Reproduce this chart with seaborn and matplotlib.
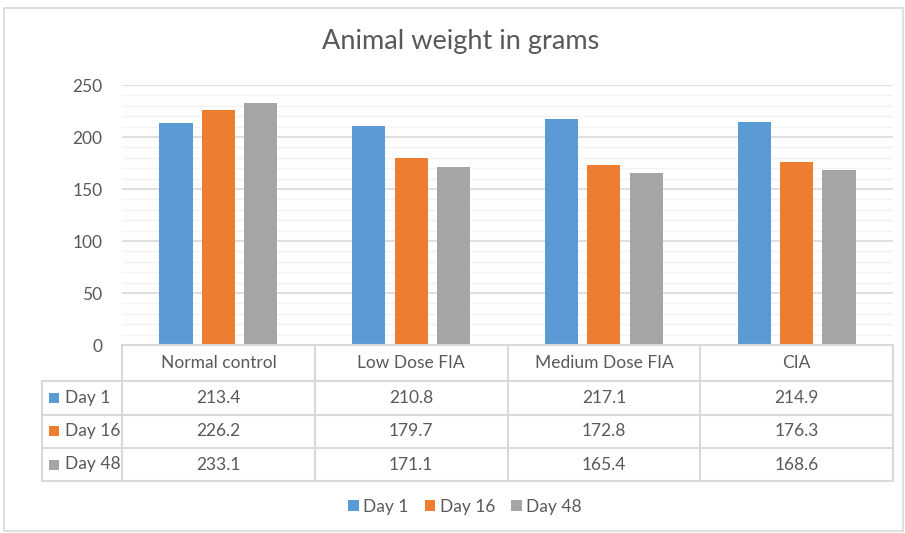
import matplotlib
matplotlib.use("Agg")
import matplotlib.pyplot as plt
import seaborn as sns
import pandas as pd
from matplotlib.patches import Rectangle
from matplotlib.lines import Line2D

categories = ["Normal control", "Low Dose FIA", "Medium Dose FIA", "CIA"]
series = ["Day 1", "Day 16", "Day 48"]
day1 = [213.4, 210.8, 217.1, 214.9]
day16 = [226.2, 179.7, 172.8, 176.3]
day48 = [233.1, 171.1, 165.4, 168.6]
y_ticks = [0, 50, 100, 150, 200, 250]
title = "Animal weight in grams"

colors = ["#5B9BD5", "#ED7D31", "#A5A5A5"]
values = {"Day 1": day1, "Day 16": day16, "Day 48": day48}
df = pd.DataFrame([
    {"Group": c, "Series": s, "Weight": values[s][i]}
    for s in series for i, c in enumerate(categories)
])

sns.set_theme(style="white")
FONT = ["Lato", "DejaVu Sans"]
plt.rcParams["font.family"] = FONT
TXT = "#595959"
GRID = "#D9D9D9"
FS = 12.5

W, H = 905, 533
fig = plt.figure(figsize=(W / 100, H / 100), dpi=100)
fig.patch.set_facecolor("white")

L, R, T, B = 122, 893, 85, 345
ax = fig.add_axes([L / W, 1 - B / H, (R - L) / W, (B - T) / H])

sns.barplot(data=df, x="Group", y="Weight", hue="Series", order=categories,
            hue_order=series, palette=colors, width=0.66, gap=0.22,
            saturation=1, ax=ax, legend=False, edgecolor="none")

ax.set_xlim(-0.5, len(categories) - 0.5)
ax.set_ylim(0, 250)
ax.set_yticks(y_ticks)
ax.set_yticks(range(0, 251, 10), minor=True)
ax.grid(True, which="minor", axis="y", color="#F2F2F2", lw=1)
ax.grid(True, which="major", axis="y", color=GRID, lw=1.2)
ax.set_axisbelow(True)
ax.tick_params(axis="y", which="both", length=0, pad=14, labelsize=FS, labelcolor=TXT)
ax.set_xticks([])
ax.set_xlabel("")
ax.set_ylabel("")
for s in ax.spines.values():
    s.set_visible(False)

fig.text(461 / W, 1 - 42 / H, title, ha="center", va="center", fontsize=19.5, color=TXT)

# Data table below the axes
def ya(px):
    return (B - px) / (B - T)

cw = (R - L) / len(categories)  # pixels per category
tr = ax.get_xaxis_transform()
rows_px = [345, 381, 414.5, 448, 481]
n = len(categories)
lc = dict(color=GRID, lw=1.5, clip_on=False, transform=tr)
xl = -0.5 - 80 / cw
ax.add_line(Line2D([-0.5, n - 0.5], [ya(rows_px[0])] * 2, **lc))
for yp in rows_px[1:]:
    ax.add_line(Line2D([xl, n - 0.5], [ya(yp)] * 2, **lc))
for k in range(n + 1):
    ax.add_line(Line2D([k - 0.5, k - 0.5], [ya(rows_px[0]), ya(rows_px[-1])], **lc))
ax.add_line(Line2D([xl, xl], [ya(rows_px[1]), ya(rows_px[-1])], **lc))

for i, c in enumerate(categories):
    ax.text(i, ya((rows_px[0] + rows_px[1]) / 2), c, transform=tr, ha="center",
            va="center", fontsize=FS, color=TXT, clip_on=False)
for r, s in enumerate(series):
    yc = ya((rows_px[r + 1] + rows_px[r + 2]) / 2)
    ax.text(xl + 23 / cw, yc, s, transform=tr, ha="left", va="center",
            fontsize=FS, color=TXT, clip_on=False)
    ax.add_patch(Rectangle((xl + 7 / cw, yc - 5 / (B - T)), 10 / cw, 10 / (B - T),
                           transform=tr, color=colors[r], clip_on=False, lw=0))
    for i in range(n):
        ax.text(i, yc, f"{values[s][i]:.1f}", transform=tr, ha="center",
                va="center", fontsize=FS, color=TXT, clip_on=False)

handles = [Rectangle((0, 0), 1, 1, color=c, lw=0) for c in colors]
fig.legend(handles, series, loc="center", bbox_to_anchor=(465 / W, 1 - 507 / H),
           ncol=3, frameon=False, fontsize=FS, labelcolor=TXT, handlelength=0.6,
           handleheight=0.6, handletextpad=0.25, columnspacing=0.95)

fig.add_artist(Rectangle((4 / W, 2 / H), (W - 6) / W, (H - 10) / H,
                         transform=fig.transFigure, fill=False,
                         edgecolor="#D9D9D9", lw=1.2))

fig.savefig("out.png", dpi=100, facecolor="white")
